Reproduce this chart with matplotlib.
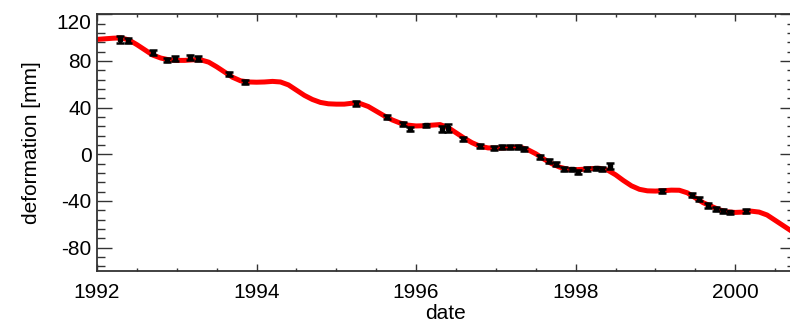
import numpy as np
import matplotlib.pyplot as plt
import matplotlib.transforms as mtransforms
from matplotlib.ticker import MultipleLocator

# model curve (sampled every 0.1 yr)
model_t = [1992.0, 1992.1, 1992.2, 1992.3, 1992.4, 1992.5, 1992.6, 1992.7, 1992.8, 1992.9,
           1993.0, 1993.1, 1993.2, 1993.3, 1993.4, 1993.5, 1993.6, 1993.7, 1993.8, 1993.9,
           1994.0, 1994.1, 1994.2, 1994.3, 1994.4, 1994.5, 1994.6, 1994.7, 1994.8, 1994.9,
           1995.0, 1995.1, 1995.2, 1995.3, 1995.4, 1995.5, 1995.6, 1995.7, 1995.8, 1995.9,
           1996.0, 1996.1, 1996.2, 1996.3, 1996.4, 1996.5, 1996.6, 1996.7, 1996.8, 1996.9,
           1997.0, 1997.1, 1997.2, 1997.3, 1997.4, 1997.5, 1997.6, 1997.7, 1997.8, 1997.9,
           1998.0, 1998.1, 1998.2, 1998.3, 1998.4, 1998.5, 1998.6, 1998.7, 1998.8, 1998.9,
           1999.0, 1999.1, 1999.2, 1999.3, 1999.4, 1999.5, 1999.6, 1999.7, 1999.8, 1999.9,
           2000.0, 2000.1, 2000.2, 2000.3, 2000.4, 2000.5, 2000.6, 2000.7, 2000.8]
model_d = [98.5, 99.0, 99.5, 99.8, 98.0, 94.0, 89.5, 85.0, 82.5, 81.0,
           80.5, 80.5, 81.0, 81.0, 79.0, 75.0, 70.5, 66.0, 63.0, 62.0,
           61.8, 62.0, 62.5, 62.0, 59.5, 55.0, 50.5, 47.0, 44.5, 43.3,
           43.0, 43.0, 43.8, 43.5, 41.0, 37.0, 33.0, 29.5, 26.8, 25.0,
           24.3, 24.5, 25.0, 25.5, 23.0, 18.5, 14.0, 10.0, 7.0, 5.5,
           5.3, 5.5, 6.0, 6.2, 4.0, 0.5, -4.0, -8.0, -11.0, -12.8,
           -13.2, -12.8, -12.2, -12.0, -13.5, -17.5, -22.5, -27.0, -30.0, -31.3,
           -31.5, -31.2, -30.7, -30.8, -33.0, -37.3, -41.5, -44.5, -47.5, -49.3,
           -49.8, -49.5, -48.7, -49.5, -52.0, -56.5, -61.0, -65.5, -69.0]

# measurements with errors
obs_t = [1992.29, 1992.39, 1992.70, 1992.88, 1992.98, 1993.17, 1993.26, 1993.65, 1993.85,
         1995.25, 1995.64, 1995.84, 1995.92, 1996.12, 1996.32, 1996.40, 1996.59, 1996.80,
         1996.98, 1997.08, 1997.18, 1997.28, 1997.35, 1997.55, 1997.67, 1997.76, 1997.86,
         1997.95, 1998.03, 1998.14, 1998.25, 1998.33, 1998.43,
         1999.08, 1999.46, 1999.55, 1999.66, 1999.76, 1999.85, 1999.94, 2000.14]
obs_d = [98.8, 97.5, 87.2, 80.8, 82.0, 83.0, 82.0, 68.8, 61.8,
         43.7, 32.0, 25.7, 21.7, 24.8, 21.5, 22.8, 13.0, 7.4,
         5.2, 6.2, 6.2, 6.2, 4.5, -2.3, -6.0, -8.5, -12.3,
         -13.0, -15.0, -12.7, -12.0, -12.7, -10.3,
         -31.4, -35.0, -38.4, -43.8, -47.1, -48.9, -49.8, -48.5]
obs_e = [3.0, 2.0, 2.0, 2.0, 2.0, 2.2, 2.0, 2.0, 1.5,
         2.2, 1.8, 1.8, 2.0, 1.5, 2.5, 3.5, 1.8, 1.8,
         1.5, 1.5, 1.5, 1.5, 1.5, 1.5, 1.8, 1.8, 1.8,
         1.5, 1.8, 1.5, 1.5, 1.5, 2.5,
         1.5, 1.8, 1.8, 1.8, 1.8, 1.8, 1.5, 1.5]

plt.rcParams['font.family'] = ['Liberation Sans', 'DejaVu Sans']
plt.rcParams['axes.unicode_minus'] = False

fig = plt.figure(figsize=(7.9, 3.28), dpi=100)
ax = fig.add_axes([0.1228, 0.1738, 0.8835, 0.7826])

ax.plot(model_t, model_d, color='red', lw=3.6, solid_capstyle='round', zorder=2)
ax.errorbar(obs_t, obs_d, yerr=obs_e, fmt='s', color='black', ms=3.5,
            elinewidth=2.2, capsize=2.9, capthick=1.8, zorder=3)

ax.set_xlim(1992, 2000.75)
ax.set_ylim(-100, 120)
ax.xaxis.set_major_locator(MultipleLocator(2))
ax.xaxis.set_minor_locator(MultipleLocator(0.5))
ax.yaxis.set_major_locator(MultipleLocator(40))
ax.yaxis.set_minor_locator(MultipleLocator(8))

ax.tick_params(axis='both', which='both', direction='in', top=True, right=True,
               labelsize=15, width=1.0, color='#333333')
ax.tick_params(axis='x', which='major', length=4.7, pad=9)
ax.tick_params(axis='x', which='minor', length=2.5)
ax.tick_params(axis='y', which='major', length=10.8, pad=4)
ax.tick_params(axis='y', which='minor', length=5.5)
for s in ax.spines.values():
    s.set_linewidth(1.3)
    s.set_color('#333333')

ax.set_xlabel('date', fontsize=15, labelpad=1)
ax.set_ylabel('deformation [mm]', fontsize=15, labelpad=11)

# nudge the top y label down a little so it sits inside the frame
fig.canvas.draw()
top_lab = ax.get_yticklabels()[-1]
for lab in ax.get_yticklabels():
    if lab.get_text() == '120':
        top_lab = lab
top_lab.set_transform(top_lab.get_transform() +
                      mtransforms.ScaledTranslation(0, -5 / 72, fig.dpi_scale_trans))

fig.savefig('out.png', dpi=100)
